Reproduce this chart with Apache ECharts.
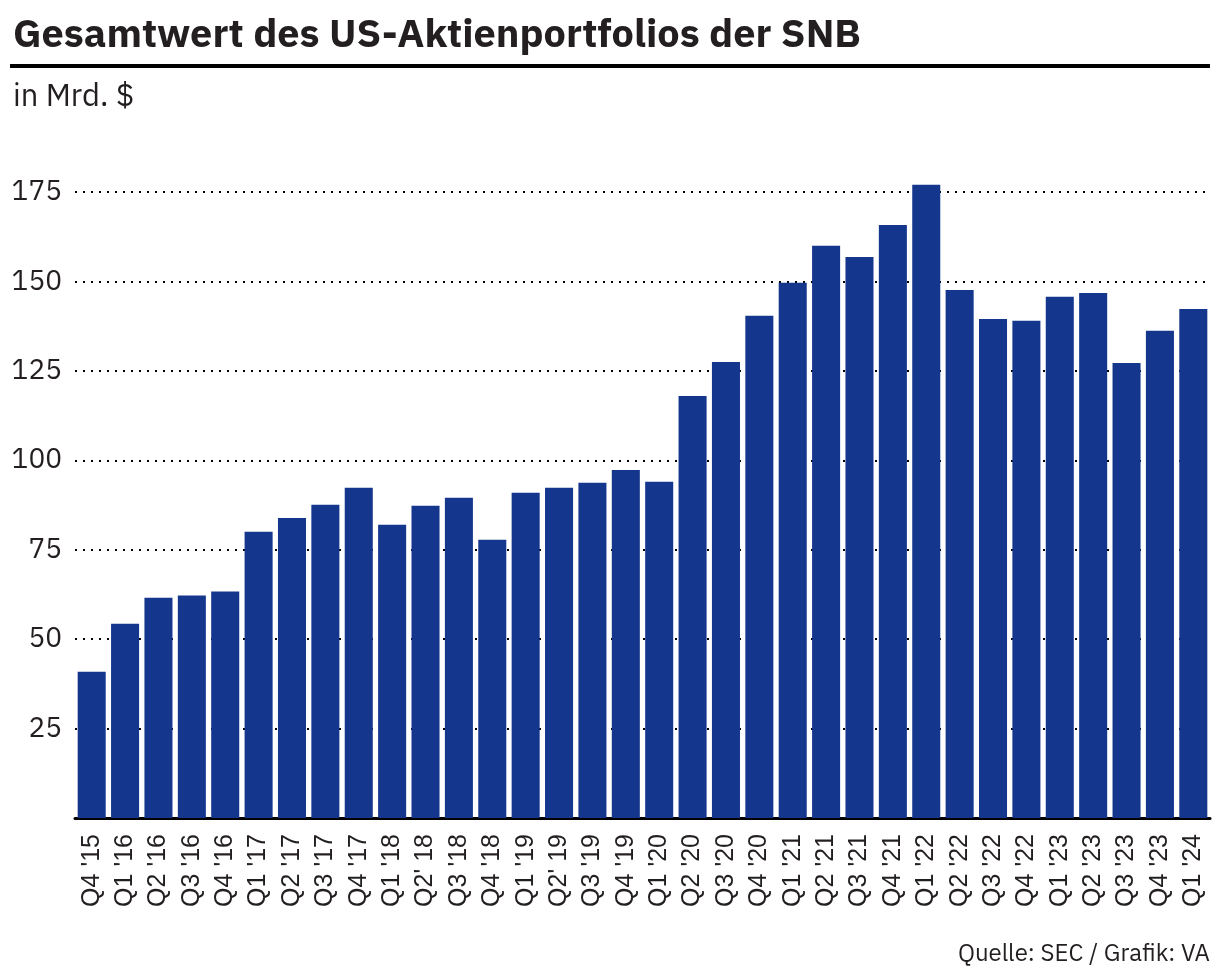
<!DOCTYPE html>
<html>
<head>
<meta charset="utf-8">
<script src="https://cdn.jsdelivr.net/npm/echarts@6/dist/echarts.min.js"></script>
<style>
html,body{margin:0;padding:0;background:#fff;}
#chart{width:1220px;height:980px;}
</style>
</head>
<body>
<div id="chart"></div>
<script>
const categories = ["Q4 '15","Q1 '16","Q2 '16","Q3 '16","Q4 '16","Q1 '17","Q2 '17","Q3 '17","Q4 '17","Q1 '18","Q2' 18","Q3 '18","Q4 '18","Q1 '19","Q2' 19","Q3 '19","Q4 '19","Q1 '20","Q2 '20","Q3 '20","Q4 '20","Q1 '21","Q2 '21","Q3 '21","Q4 '21","Q1 '22","Q2 '22","Q3 '22","Q4 '22","Q1 '23","Q2 '23","Q3 '23","Q4 '23","Q1 '24"];
const values = [40.9,54.3,61.6,62.2,63.3,80.0,83.9,87.6,92.3,82.0,87.3,89.5,77.8,90.9,92.3,93.7,97.3,94.0,118.0,127.5,140.4,149.6,160.0,156.8,165.8,177.0,147.6,139.5,139.0,145.7,146.8,127.2,136.2,142.3];
const yTicks = [25,50,75,100,125,150,175];

const titleText = "Gesamtwert des US-Aktienportfolios der SNB";
const subtitleText = "in Mrd. $";
const sourceText = "Quelle: SEC / Grafik: VA";

const chart = echarts.init(document.getElementById('chart'), null, {renderer:'canvas'});
const FONT = "'IBM Plex Sans','Noto Sans',sans-serif";
chart.setOption({
  animation:false,
  backgroundColor:'#fff',
  title:[
    {text:titleText,left:8,top:11,textStyle:{fontFamily:FONT,fontWeight:'bold',fontSize:39.7,color:'#231f20'}},
    {text:subtitleText,left:8,top:77,textStyle:{fontFamily:FONT,fontWeight:'normal',fontSize:31,color:'#231f20'}},
    {text:sourceText,right:5,top:937,textStyle:{fontFamily:FONT,fontWeight:'normal',fontSize:24,color:'#231f20'}}
  ],
  graphic:[
    {type:'rect',left:10,top:64,shape:{width:1200,height:4},style:{fill:'#000'}}
  ],
  grid:{left:75,right:10,top:192,bottom:162},
  xAxis:{
    type:'category',
    data:categories,
    axisLine:{lineStyle:{color:'#000',width:3}},
    axisTick:{show:false},
    axisLabel:{rotate:90,interval:0,margin:16,fontFamily:"'Liberation Sans',Arial,sans-serif",fontSize:25,color:'#231f20'}
  },
  yAxis:{
    type:'value',
    min:0,max:175,interval:25,
    axisLine:{show:false},
    axisTick:{show:false},
    axisLabel:{margin:13,fontFamily:FONT,fontSize:28,color:'#231f20',
      formatter:v=>yTicks.includes(v)?String(v):''},
    splitLine:{show:true,lineStyle:{color:'#000',width:2,type:[2,6]}}
  },
  series:[{
    type:'bar',
    data:values,
    clip:false,
    barCategoryGap:'16%',
    itemStyle:{color:'#14378d'}
  }]
});
</script>
</body>
</html>
